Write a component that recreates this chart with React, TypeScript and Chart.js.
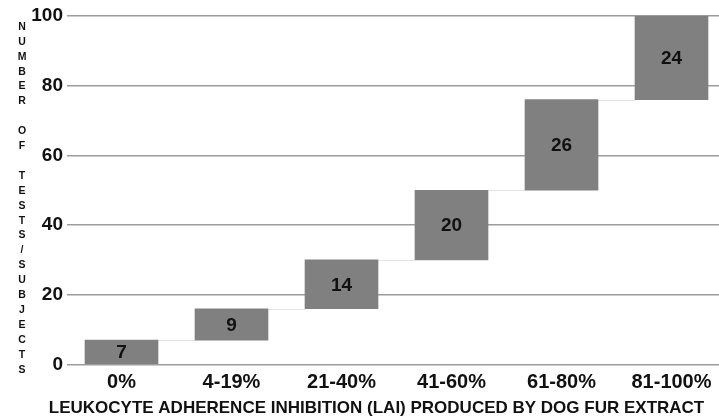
import React, { useEffect, useRef } from "react";
import { Chart, registerables } from "chart.js";

Chart.register(...registerables);

const categories = ["0%", "4-19%", "21-40%", "41-60%", "61-80%", "81-100%"];
const counts = [7, 9, 14, 20, 26, 24];
const yTicks = [0, 20, 40, 60, 80, 100];
const xTitle = "LEUKOCYTE ADHERENCE INHIBITION (LAI) PRODUCED BY DOG FUR EXTRACT";
const yTitle = "NUMBER OF TESTS/SUBJECTS";

const FONT = "'Liberation Sans', Arial, sans-serif";

// floating ranges built from the counts (waterfall)
const ranges: [number, number][] = [];
{
  let acc = 0;
  for (const c of counts) {
    ranges.push([acc, acc + c]);
    acc += c;
  }
}

const waterfallPlugin = {
  id: "waterfallExtras",
  beforeDatasetsDraw(chart: any) {
    const ctx = chart.ctx;
    const meta = chart.getDatasetMeta(0);
    const yScale = chart.scales.y;
    ctx.save();
    ctx.strokeStyle = "#e4e4e4";
    ctx.lineWidth = 1;
    for (let i = 0; i < ranges.length - 1; i++) {
      const a = meta.data[i];
      const b = meta.data[i + 1];
      const y = Math.round(yScale.getPixelForValue(ranges[i][1])) + 0.5;
      ctx.beginPath();
      ctx.moveTo(a.x + a.width / 2, y);
      ctx.lineTo(b.x - b.width / 2, y);
      ctx.stroke();
    }
    ctx.restore();
  },
  afterDatasetsDraw(chart: any) {
    const ctx = chart.ctx;
    const meta = chart.getDatasetMeta(0);
    ctx.save();
    ctx.fillStyle = "#111";
    ctx.font = `bold 19px ${FONT}`;
    ctx.textAlign = "center";
    ctx.textBaseline = "middle";
    meta.data.forEach((el: any, i: number) => {
      ctx.fillText(String(counts[i]), el.x, (el.y + el.base) / 2 + 1);
    });
    ctx.restore();
  },
  afterDraw(chart: any) {
    const ctx = chart.ctx;
    const area = chart.chartArea;
    ctx.save();
    ctx.fillStyle = "#111";
    // stacked vertical y title
    ctx.font = `bold 10.5px ${FONT}`;
    ctx.textAlign = "center";
    ctx.textBaseline = "middle";
    const chars = yTitle.split("");
    const lh = 14.9;
    const start = area.top + 11;
    chars.forEach((ch, i) => {
      if (ch !== " ") ctx.fillText(ch, 22, start + i * lh);
    });
    // x title
    ctx.font = `bold 17px ${FONT}`;
    ctx.fillText(xTitle, chart.width / 2 + 17, 408);
    ctx.restore();
  },
};

export default function App() {
  const ref = useRef<HTMLCanvasElement | null>(null);
  useEffect(() => {
    if (!ref.current) return;
    const slot = 110;
    const left = 75;
    const firstCenter = 121.5;
    const xmin = -(firstCenter - left) / slot;
    const xmax = xmin + (719 - left) / slot;
    const chart = new Chart(ref.current, {
      type: "bar",
      data: {
        datasets: [
          {
            data: ranges.map((r, i) => ({ x: i, y: r })) as any,
            backgroundColor: "#808080",
            borderWidth: 0,
            barThickness: 73,
          },
        ],
      },
      options: {
        animation: false,
        responsive: true,
        maintainAspectRatio: false,
        layout: { padding: { left: 30, top: 16, right: 0, bottom: 0 } },
        plugins: { legend: { display: false }, tooltip: { enabled: false } },
        scales: {
          x: {
            type: "linear",
            offset: false,
            min: xmin,
            max: xmax,
            afterBuildTicks: (s: any) => {
              s.ticks = categories.map((_, i) => ({ value: i }));
            },
            afterFit: (s: any) => {
              s.height = 54.5;
            },
            ticks: {
              callback: (v: any) => categories[v as number] ?? "",
              font: { family: FONT, size: 20, weight: "bold" },
              color: "#111",
              padding: 6,
              maxRotation: 0,
              autoSkip: false,
            },
            grid: { display: false, drawTicks: false, offset: false },
            border: { display: false },
          },
          y: {
            min: 0,
            max: 100,
            afterBuildTicks: (s: any) => {
              s.ticks = yTicks.map((v) => ({ value: v }));
            },
            afterFit: (s: any) => {
              s.width = 45;
            },
            ticks: {
              font: { family: FONT, size: 19, weight: "bold" },
              color: "#111",
              padding: 4,
            },
            grid: { color: "#9c9c9c", lineWidth: 1.5, tickLength: 8, drawTicks: true },
            border: { display: false },
          },
        },
      },
      plugins: [waterfallPlugin],
    });
    return () => chart.destroy();
  }, []);
  return (
    <div style={{ position: "fixed", left: 0, top: 0, width: 719, height: 419, background: "#fff" }}>
      <canvas ref={ref} />
    </div>
  );
}
